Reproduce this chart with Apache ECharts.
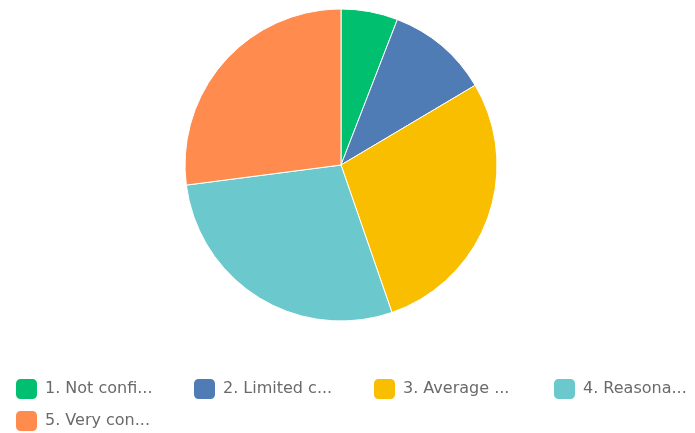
<!DOCTYPE html>
<html>
<head>
<meta charset="utf-8">
<script src="https://cdn.jsdelivr.net/npm/echarts@6/dist/echarts.min.js"></script>
<style>
  html, body { margin: 0; padding: 0; background: #fff; }
  #chart { width: 695px; height: 433px; }
</style>
</head>
<body>
<div id="chart"></div>
<script>
// Answer choices and response counts
const categories = [
  '1. Not confident',
  '2. Limited confidence',
  '3. Average confidence',
  '4. Reasonably confident',
  '5. Very confident'
];
const responses = [5, 9, 24, 24, 23];
const colors = ['#00BF6F', '#507CB6', '#F9BE00', '#6BC8CD', '#FF8B4F'];

// Shortened answer text shown in the legend
const legendLabels = [
  '1. Not confi...',
  '2. Limited c...',
  '3. Average ...',
  '4. Reasona...',
  '5. Very con...'
];

// Legend slots: four across, the fifth wraps onto a second row
const legendSlots = [
  { left: 14, top: 377 },
  { left: 192, top: 377 },
  { left: 372, top: 377 },
  { left: 552, top: 377 },
  { left: 14, top: 409 }
];

const chart = echarts.init(document.getElementById('chart'));
chart.setOption({
  animation: false,
  color: colors,
  legend: categories.map((name, i) => ({
    data: [name],
    left: legendSlots[i].left,
    top: legendSlots[i].top,
    padding: 0,
    icon: 'roundRect',
    itemWidth: 23,
    itemHeight: 22,
    selectedMode: false,
    formatter: () => legendLabels[i],
    textStyle: {
      fontFamily: 'DejaVu Sans, sans-serif',
      fontSize: 16,
      color: '#6a6a6a',
      padding: [0, 0, 0, 2]
    }
  })),
  series: [{
    type: 'pie',
    center: [341, 165],
    radius: 156,
    startAngle: 90,
    clockwise: true,
    label: { show: false },
    labelLine: { show: false },
    itemStyle: { borderColor: '#fff', borderWidth: 1 },
    data: categories.map((name, i) => ({ name: name, value: responses[i] }))
  }]
});
</script>
</body>
</html>
